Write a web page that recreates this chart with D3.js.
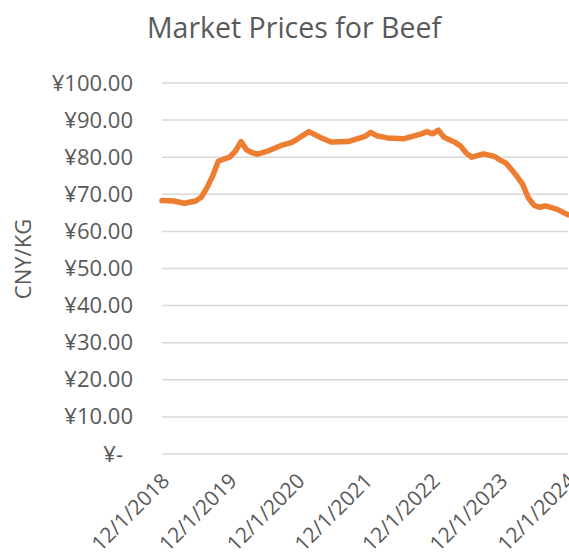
<!DOCTYPE html>
<html>
<head>
<meta charset="utf-8">
<script src="https://cdn.jsdelivr.net/npm/d3@7"></script>
<style>
  body { margin: 0; background: #fff; }
  text { font-family: "Open Sans", sans-serif; fill: #595959; }
</style>
</head>
<body>
<script>
// data (monthly, first of month)
const dates = [
  '2018-12-01', '2019-02-01', '2019-04-01', '2019-06-01', '2019-07-01', '2019-08-01',
  '2019-09-01', '2019-10-01', '2019-11-01', '2019-12-01', '2020-01-01', '2020-02-01',
  '2020-03-01', '2020-04-01', '2020-05-01', '2020-07-01', '2020-09-01', '2020-11-01',
  '2020-12-01', '2021-02-01', '2021-04-01', '2021-06-01', '2021-09-01', '2021-12-01',
  '2022-01-01', '2022-02-01', '2022-04-01', '2022-07-01', '2022-10-01', '2022-11-01',
  '2022-12-01', '2023-01-01', '2023-02-01', '2023-04-01', '2023-05-01', '2023-06-01',
  '2023-07-01', '2023-09-01', '2023-11-01', '2023-12-01', '2024-01-01', '2024-02-01',
  '2024-03-01', '2024-04-01', '2024-05-01', '2024-06-01', '2024-07-01', '2024-08-01',
  '2024-10-01', '2024-12-01'
];
const prices = [
  68.3, 68.2, 67.6, 68.2, 69.2, 71.8,
  75.0, 78.9, 79.5, 80.0, 81.6, 84.2,
  82.0, 81.2, 80.8, 81.8, 83.1, 84.0,
  84.9, 86.9, 85.4, 84.1, 84.2, 85.6,
  86.7, 85.8, 85.2, 85.0, 86.3, 86.9,
  86.3, 87.3, 85.4, 84.0, 83.0, 81.1,
  80.0, 80.9, 80.2, 79.2, 78.4, 76.6,
  74.8, 72.6, 69.0, 67.0, 66.5, 66.9,
  66.0, 64.5
];
const yTicks = [0, 10, 20, 30, 40, 50, 60, 70, 80, 90, 100];
const xTickLabels = ['12/1/2018', '12/1/2019', '12/1/2020', '12/1/2021', '12/1/2022', '12/1/2023', '12/1/2024'];

const chartTitle = 'Market Prices for Beef';
const yTitle = 'CNY/KG';

const W = 569, H = 555;
const margin = { top: 83, right: 1, bottom: 101, left: 162 };
const width = W - margin.left - margin.right;
const height = H - margin.top - margin.bottom;

const parseDate = d3.timeParse('%Y-%m-%d');
const parseTick = d3.timeParse('%m/%d/%Y');
const data = dates.map((d, i) => ({ date: parseDate(d), price: prices[i] }));
const tickDates = xTickLabels.map(parseTick);

// set the ranges
const x = d3.scaleTime()
  .domain([tickDates[0], tickDates[tickDates.length - 1]])
  .range([0, width]);
const y = d3.scaleLinear().domain([0, 100]).range([height, 0]);

const svg = d3.select('body').append('svg')
  .attr('width', W)
  .attr('height', H);

// title
svg.append('text')
  .attr('x', 294)
  .attr('y', 38)
  .attr('text-anchor', 'middle')
  .style('font-size', '28.5px')
  .text(chartTitle);

// y axis title
svg.append('text')
  .attr('transform', 'translate(31,' + 259 + ') rotate(-90)')
  .attr('text-anchor', 'middle')
  .style('font-size', '22px')
  .text(yTitle);

const g = svg.append('g')
  .attr('transform', 'translate(' + margin.left + ',' + margin.top + ')');

// gridlines
g.append('g')
  .selectAll('line')
  .data(yTicks)
  .join('line')
  .attr('x1', 0)
  .attr('x2', width)
  .attr('y1', d => y(d))
  .attr('y2', d => y(d))
  .style('stroke', '#d9d9d9')
  .style('stroke-width', 1.5);

// y axis labels
const yAxis = g.append('g')
  .call(d3.axisLeft(y)
    .tickValues(yTicks)
    .tickSize(0)
    .tickPadding(29)
    .tickFormat(d => d === 0 ? '¥-' : '¥' + d3.format('.2f')(d)));
yAxis.select('.domain').remove();
yAxis.selectAll('text')
  .style('font-size', '22px')
  .style('font-family', '"Open Sans", sans-serif')
  .attr('fill', '#595959')
  .attr('dx', d => d === 0 ? -10 : 0);

// x axis labels
const xAxis = g.append('g')
  .attr('transform', 'translate(0,' + height + ')')
  .call(d3.axisBottom(x)
    .tickValues(tickDates)
    .tickSize(0)
    .tickFormat(d3.timeFormat('%-m/%-d/%Y')));
xAxis.select('.domain').remove();
xAxis.selectAll('text')
  .style('font-size', '21px')
  .style('font-family', '"Open Sans", sans-serif')
  .attr('fill', '#595959')
  .attr('text-anchor', 'end')
  .attr('dy', '0.35em')
  .attr('transform', 'translate(3,23) rotate(-45)')
  .attr('y', 0);

// price line
const valueline = d3.line()
  .x(d => x(d.date))
  .y(d => y(d.price));

g.append('path')
  .datum(data)
  .attr('d', valueline)
  .style('fill', 'none')
  .style('stroke', '#ED7D31')
  .style('stroke-width', 5.5)
  .style('stroke-linejoin', 'round')
  .style('stroke-linecap', 'round');
</script>
</body>
</html>
